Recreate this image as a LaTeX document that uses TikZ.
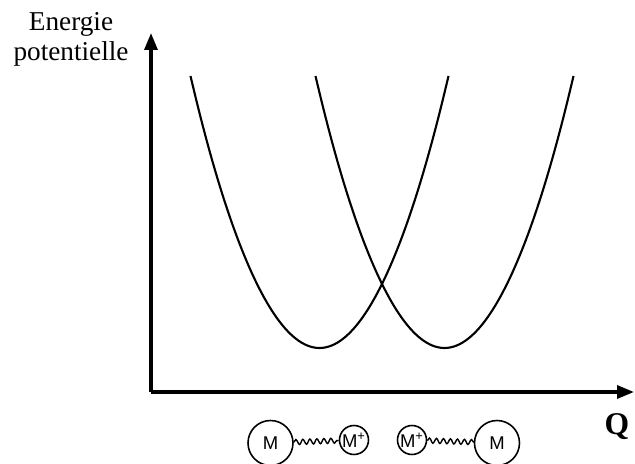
\documentclass[tikz,border=0pt]{standalone}
\usepackage{fontspec}
\setmainfont{Liberation Serif}
\setsansfont{Liberation Sans}
\usetikzlibrary{arrows.meta,decorations.pathmorphing}

\begin{document}
\begin{tikzpicture}[
      axe/.style={-{Triangle[length=0.34cm,width=0.26cm]}, line width=1.8pt},
      courbe/.style={line width=1.2pt},
      atome/.style={circle, draw, line width=0.9pt, minimum size=0.9cm, inner sep=0pt,
                    font=\sffamily\fontsize{10.5}{10.5}\selectfont},
      ion/.style={circle, draw, line width=0.9pt, minimum size=0.58cm, inner sep=0pt,
                  font=\sffamily\fontsize{10.5}{10.5}\selectfont},
      ressort/.style={decorate, decoration={snake, segment length=0.14cm, amplitude=0.05cm},
                      line width=0.8pt},
      titre/.style={align=center, font=\fontsize{15.5}{17.5}\selectfont}
    ]
    \useasboundingbox (-3.02,-1.42) rectangle (9.68,7.84);

    \coordinate (o) at (0,0);
    \coordinate (ey) at (0,7.18);
    \coordinate (ex) at (9.66,0);
    \draw[axe] (o) -- (ey);
    \draw[axe] (o) -- (ex);
    \node[titre] (energie) at (-1.6,7.05) {Energie\\potentielle};
    \node[font=\bfseries\fontsize{18}{18}\selectfont] (q) at (9.32,-0.70) {Q};

    \draw[courbe] (0.79,6.32) parabola bend (3.37,0.88) (5.95,6.32);
    \draw[courbe] (3.29,6.32) parabola bend (5.87,0.88) (8.45,6.32);

    \node[atome] (m1)  at (2.39,-1.02) {M};
    \node[ion]   (mp1) at (4.06,-0.96) {M\textsuperscript{+}};
    \node[ion]   (mp2) at (5.22,-0.96) {M\textsuperscript{+}};
    \node[atome] (m2)  at (6.92,-1.02) {M};
    \draw[ressort] (m1) -- (mp1);
    \draw[ressort] (mp2) -- (m2);
  \end{tikzpicture}
\end{document}
